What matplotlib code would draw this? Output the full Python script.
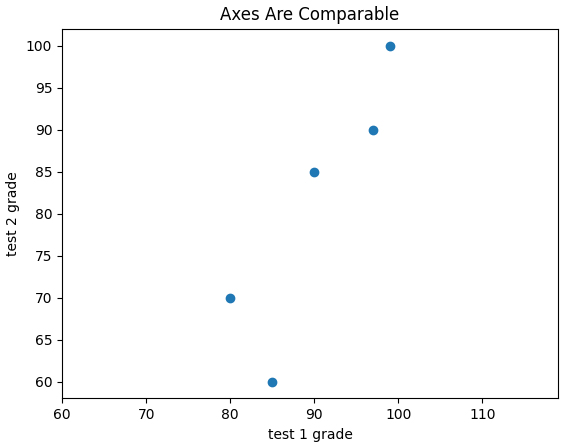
import matplotlib
matplotlib.use("Agg")
import matplotlib.pyplot as plt

test_1_grades = [99, 90, 85, 97, 80]
test_2_grades = [100, 85, 60, 90, 70]

fig = plt.figure(figsize=(5.64, 4.42), dpi=100)
ax = fig.add_axes([62 / 564, 43.6 / 442, 496 / 564, 369.6 / 442])
ax.scatter(test_1_grades, test_2_grades)
ax.set_title("Axes Are Comparable")
ax.set_xlabel("test 1 grade")
ax.set_ylabel("test 2 grade")
ax.axis("equal")

fig.savefig("out.png", dpi=100)
